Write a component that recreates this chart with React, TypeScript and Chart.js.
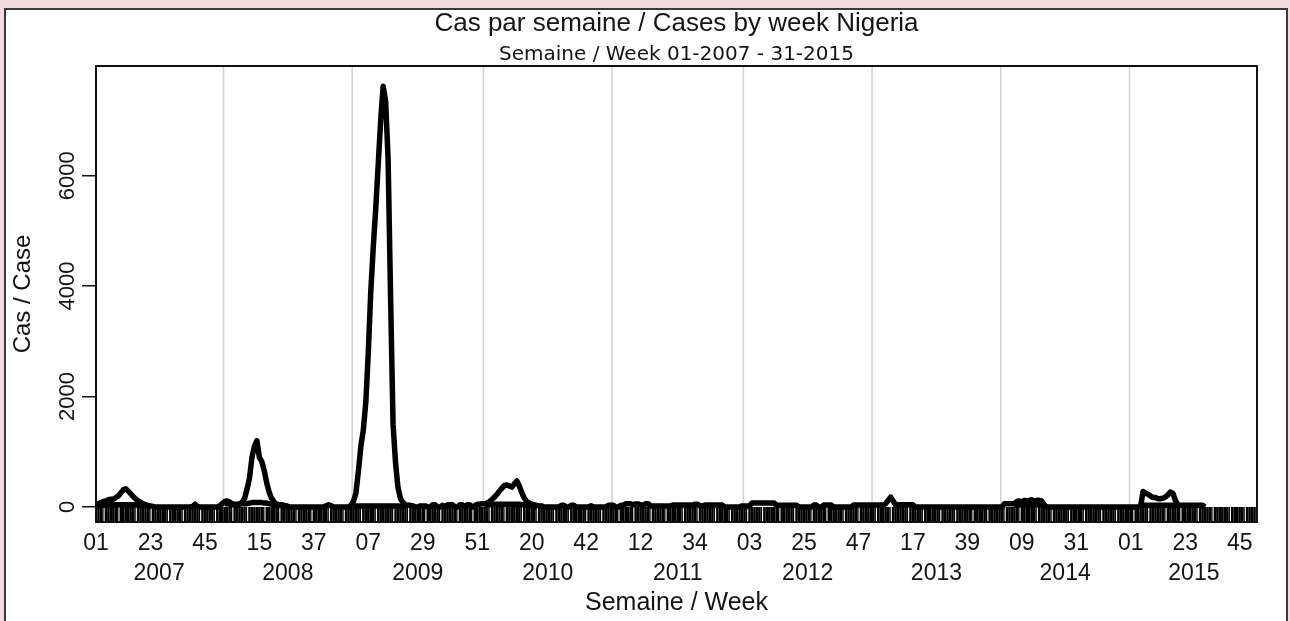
import React, { useEffect, useRef } from 'react';
import { Chart, registerables } from 'chart.js';

Chart.register(...registerables);

// ---- data ----
const yearLabels = ['2007', '2008', '2009', '2010', '2011', '2012', '2013', '2014', '2015'];
const weeksPerYear = [52, 52, 53, 52, 53, 52, 52, 52, 52];

const weekTickIndex = [0, 22, 44, 66, 88, 110, 132, 154, 176, 198, 220, 242, 264, 286, 308, 330, 352, 374, 396, 418, 440, 462];
const weekTickLabels = ['01', '23', '45', '15', '37', '07', '29', '51', '20', '42', '12', '34', '03', '25', '47', '17', '39', '09', '31', '01', '23', '45'];

const yTickValues = [0, 2000, 4000, 6000];

const cases2007 = [30, 60, 80, 100, 110, 130, 140, 140, 170, 200, 250, 310, 330, 290, 240, 190, 150, 110, 80, 60, 40, 30, 20, 10, 0, 0,
  0, 0, 0, 0, 0, 0, 0, 0, 0, 0, 0, 0, 0, 10, 50, 10, 0, 0, 0, 0, 0, 0, 0, 0, 20, 60];
const cases2008 = [100, 110, 90, 60, 50, 50, 60, 80, 150, 320, 520, 900, 1100, 1200, 900, 820, 650, 430, 260, 150, 90, 50, 40, 40, 30, 20,
  0, 0, 0, 0, 0, 0, 0, 0, 0, 0, 0, 0, 0, 0, 0, 20, 40, 20, 0, 0, 0, 0, 0, 0, 0, 30];
const cases2009 = [100, 250, 650, 1100, 1400, 1900, 2800, 3900, 4700, 5400, 6200, 7000, 7620, 7350, 6300, 3800, 1500, 800, 350, 150, 80, 40, 30,
  30, 20, 0, 0, 20, 20, 20, 0, 0, 40, 40, 0, 0, 30, 0, 40, 40, 40, 0, 0, 40, 40, 0, 40, 40, 0, 20, 50, 50, 60];
const cases2010 = [60, 70, 100, 140, 180, 230, 290, 340, 390, 400, 380, 360, 420, 470, 380, 260, 160, 100, 70, 50, 40, 30, 20, 20, 0, 0,
  0, 0, 0, 0, 0, 30, 30, 0, 0, 30, 30, 0, 0, 0, 0, 0, 0, 20, 0, 0, 0, 0, 0, 0, 30, 30];
const cases2011 = [30, 0, 0, 30, 30, 60, 60, 60, 40, 55, 55, 40, 30, 60, 60, 20, 20, 20, 20, 20, 20, 20, 20, 20, 35, 35, 35,
  35, 35, 35, 35, 35, 35, 50, 50, 20, 20, 35, 35, 35, 35, 35, 35, 35, 35, 0, 0, 0, 0, 0, 0, 0, 20];
const cases2012 = [20, 20, 20, 70, 70, 70, 70, 70, 70, 70, 70, 70, 70, 30, 30, 30, 30, 30, 30, 30, 30, 30, 0, 0, 0, 0,
  0, 0, 35, 35, 0, 0, 35, 35, 35, 35, 0, 0, 0, 0, 0, 0, 0, 0, 35, 35, 35, 35, 35, 35, 35, 35];
const cases2013 = [35, 35, 35, 35, 35, 60, 120, 180, 110, 40, 40, 40, 40, 40, 40, 40, 40, 0, 0, 0, 0, 0, 0, 0, 0, 0,
  0, 0, 0, 0, 0, 0, 0, 0, 0, 0, 0, 0, 0, 0, 0, 0, 0, 0, 0, 0, 0, 0, 0, 0, 0, 0];
const cases2014 = [0, 60, 60, 60, 60, 60, 100, 110, 80, 120, 110, 120, 130, 110, 120, 120, 110, 40, 0, 0, 0, 0, 0, 0, 0, 0,
  0, 0, 0, 0, 0, 0, 0, 0, 0, 0, 0, 0, 0, 0, 0, 0, 0, 0, 0, 0, 0, 0, 0, 0, 0, 0];
const cases2015 = [0, 0, 0, 0, 20, 280, 250, 230, 200, 170, 170, 150, 150, 160, 180, 220, 270, 250, 120, 40, 30, 30, 30, 30, 30, 30,
  30, 30, 30, 30, 0];

// second (low) black line visible under the bumps
const low2007 = [20, 30, 30, 30, 40, 40, 40, 40, 40, 40, 40, 40, 40, 40, 40, 40, 40, 30, 30, 20, 20, 10, 0];
const low2008 = [60, 60, 50, 40, 40, 40, 50, 60, 60, 60, 70, 80, 80, 80, 80, 80, 70, 70, 60, 50, 40, 30, 30, 20, 20, 10, 0];
const low2009 = [20, 20, 20, 20, 20, 20, 20, 20, 20, 20, 20, 20, 20, 20, 20, 20, 20, 20, 20, 10, 10, 0];
const low2010 = [40, 40, 40, 50, 50, 50, 50, 50, 50, 50, 50, 50, 50, 50, 50, 40, 40, 30, 30, 20, 10, 0];
const low2014 = [null, null, null, null, null, 40, 40, 40, 40, 40, 40, 40, 40, 40, 40, 40, 40, 20, 0];
const low2015 = [null, null, null, null, 30, 30, 30, 30, 30, 30, 30, 30, 30, 30, 30, 30, 30, 30, 30, 30, 30];

const casesByYear = [cases2007, cases2008, cases2009, cases2010, cases2011, cases2012, cases2013, cases2014, cases2015];
const lowByYear: (number | null)[][] = [low2007, low2008, low2009, low2010, [], [], [], low2014, low2015];

const FONT = '"Liberation Sans", Arial, Helvetica, sans-serif';
const TEXT = '#141414';

export default function App() {
  const ref = useRef<HTMLCanvasElement>(null);

  useEffect(() => {
    if (!ref.current) return;
    const yearStart: number[] = [];
    let acc = 0;
    weeksPerYear.forEach((n) => { yearStart.push(acc); acc += n; });
    const totalWeeks = acc;
    const xMax = totalWeeks - 1;

    const casePoints: { x: number; y: number }[] = [];
    casesByYear.forEach((arr, yi) => arr.forEach((v, k) => casePoints.push({ x: yearStart[yi] + k, y: v })));
    const lowPoints: { x: number; y: number | null }[] = [];
    lowByYear.forEach((arr, yi) => {
      for (let k = 0; k < weeksPerYear[yi]; k++) {
        const v = k < arr.length ? arr[k] : null;
        lowPoints.push({ x: yearStart[yi] + k, y: v });
      }
    });

    const yearMid = yearStart.map((s, i) => s + (weeksPerYear[i] - 1) / 2);
    const yearBoundaries = yearStart.slice(1).map((s) => s - 0.5);

    const backgroundPlugin = {
      id: 'yearGridAndWeekTicks',
      beforeDatasetsDraw(chart: any) {
        const { ctx, chartArea, scales } = chart;
        const xs = scales.x;
        const ys = scales.y;
        ctx.save();
        ctx.strokeStyle = '#d4d4d4';
        ctx.lineWidth = 1.6;
        yearBoundaries.forEach((b) => {
          const px = xs.getPixelForValue(b);
          ctx.beginPath();
          ctx.moveTo(px, chartArea.top);
          ctx.lineTo(px, chartArea.bottom);
          ctx.stroke();
        });
        // weekly tick marks, inside the plot between the bottom edge and zero.
        // Thick ticks almost touch; a thin light seam shows where the original
        // low-resolution raster skipped a pixel (about every 6.5 weeks).
        const y0 = ys.getPixelForValue(0);
        const yb = chartArea.bottom;
        const rasterStep = 1.1538;
        ctx.fillStyle = '#000';
        for (let i = 0; i < totalWeeks; i++) {
          const pxA = xs.getPixelForValue(i - 0.5);
          const pxB = xs.getPixelForValue(i + 0.5);
          const lo = Math.floor(i * rasterStep + 0.5);
          const loNext = Math.floor((i + 1) * rasterStep + 0.5);
          const seam = loNext - lo > 1 ? 1.1 : 0;
          const left = Math.max(pxA, chartArea.left);
          const right = Math.min(pxB - seam, chartArea.right);
          if (right > left) ctx.fillRect(left, y0, right - left, yb - y0);
        }
        ctx.restore();
      },
      afterDraw(chart: any) {
        const { ctx, chartArea } = chart;
        ctx.save();
        ctx.strokeStyle = '#111';
        ctx.lineWidth = 2;
        ctx.strokeRect(chartArea.left, chartArea.top, chartArea.right - chartArea.left, chartArea.bottom - chartArea.top);
        ctx.restore();
      },
    };

    const lineStyle = {
      borderColor: '#000',
      backgroundColor: '#000',
      borderWidth: 5.5,
      pointRadius: 0,
      tension: 0,
      borderJoinStyle: 'round' as const,
      fill: false,
      spanGaps: false,
    };

    const chart = new Chart(ref.current, {
      type: 'line',
      data: {
        datasets: [
          { label: 'Cas / Case', data: casePoints, ...lineStyle },
          { label: 'Série basse', data: lowPoints as any, ...lineStyle },
        ],
      },
      plugins: [backgroundPlugin],
      options: {
        animation: false,
        responsive: false,
        maintainAspectRatio: false,
        layout: { padding: { left: 0, right: 33, top: 0, bottom: 0 } },
        plugins: {
          legend: { display: false },
          tooltip: { enabled: false },
          title: {
            display: true,
            text: 'Cas par semaine / Cases by week Nigeria',
            fullSize: false,
            color: TEXT,
            font: { family: FONT, size: 26, weight: 'normal', lineHeight: 1.2 },
            padding: { top: 8, bottom: 0 },
          },
          subtitle: {
            display: true,
            text: 'Semaine / Week 01-2007 - 31-2015',
            fullSize: false,
            color: TEXT,
            font: { family: '"DejaVu Sans", Verdana, sans-serif', size: 20, weight: 'normal', lineHeight: 1.1 },
            padding: { top: 4.8, bottom: 0 },
          },
        },
        scales: {
          x: {
            type: 'linear',
            position: 'bottom',
            min: 0,
            max: xMax,
            weight: 0,
            grid: { display: false, drawTicks: false },
            border: { display: false },
            afterBuildTicks: (s: any) => { s.ticks = weekTickIndex.map((v) => ({ value: v })); },
            afterFit: (s: any) => { s.height = 38; },
            ticks: {
              autoSkip: false,
              minRotation: 0,
              maxRotation: 0,
              padding: 7.6,
              color: TEXT,
              font: { family: FONT, size: 23 },
              callback: (_v: any, i: number) => weekTickLabels[i],
            },
          },
          xYear: {
            type: 'linear',
            position: 'bottom',
            min: 0,
            max: xMax,
            weight: 1,
            grid: { display: false, drawTicks: false },
            border: { display: false },
            afterBuildTicks: (s: any) => { s.ticks = yearMid.map((v) => ({ value: v })); },
            afterFit: (s: any) => { s.height = 61; },
            ticks: {
              autoSkip: false,
              minRotation: 0,
              maxRotation: 0,
              padding: 0.2,
              color: TEXT,
              font: { family: FONT, size: 23 },
              callback: (_v: any, i: number) => yearLabels[i],
            },
            title: {
              display: true,
              text: 'Semaine / Week',
              color: TEXT,
              font: { family: FONT, size: 25 },
              padding: { top: 0, bottom: 3 },
            },
          },
          y: {
            type: 'linear',
            position: 'left',
            min: -272,
            max: 7986,
            afterBuildTicks: (s: any) => { s.ticks = yTickValues.map((v) => ({ value: v })); },
            afterFit: (s: any) => { s.width = 96; },
            grid: { drawOnChartArea: false, drawTicks: true, tickLength: 14, color: '#111', lineWidth: 1.5 },
            border: { display: false },
            ticks: {
              autoSkip: false,
              minRotation: 90,
              maxRotation: 90,
              crossAlign: 'center',
              padding: -10,
              color: TEXT,
              font: { family: FONT, size: 22 },
              callback: (v: any) => String(v),
            },
            title: {
              display: true,
              text: 'Cas / Case',
              color: TEXT,
              font: { family: FONT, size: 24 },
              padding: { top: 9, bottom: 0 },
            },
          },
        },
      } as any,
    });

    return () => chart.destroy();
  }, []);

  return (
    <div style={{ position: 'fixed', left: 0, top: 0, width: 1290, height: 621, background: '#f1dcdb', overflow: 'hidden' }}>
      <div
        style={{
          position: 'absolute',
          left: 4,
          top: 8,
          width: 1284,
          height: 700,
          boxSizing: 'border-box',
          border: '2px solid #3a3a3a',
          background: '#ffffff',
        }}
      />
      <canvas
        ref={ref}
        width={1290}
        height={621}
        style={{ position: 'absolute', left: 0, top: 0, width: 1290, height: 621, display: 'block' }}
      />
    </div>
  );
}
